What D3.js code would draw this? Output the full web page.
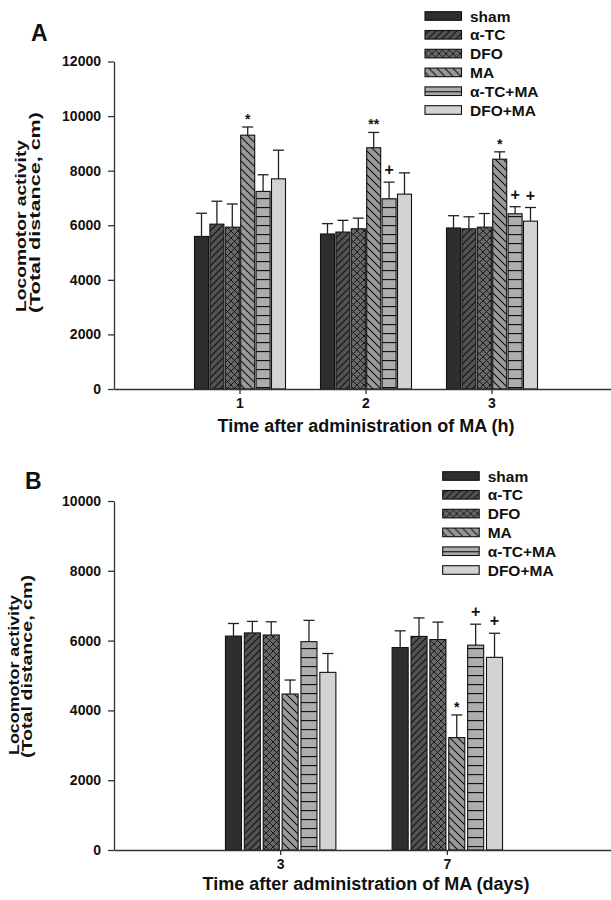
<!DOCTYPE html>
<html>
<head>
<meta charset="utf-8">
<script src="https://cdn.jsdelivr.net/npm/d3@7"></script>
<style>
  body { margin: 0; background: #fff; }
  svg { display: block; }
  text { font-family: "Liberation Sans", Arial, Helvetica, sans-serif; font-weight: bold; fill: #111; }
</style>
</head>
<body>
<div id="viz"></div>
<script>
// groups shown in every cluster, in draw order
const series = ["sham", "α-TC", "DFO", "MA", "α-TC+MA", "DFO+MA"];

// panel A: hours after MA
const hoursA = ["1", "2", "3"];
const meanA = [
  [5590, 6040, 5930, 9300, 7240, 7700],
  [5680, 5750, 5870, 8840, 6970, 7140],
  [5900, 5870, 5930, 8420, 6420, 6150]
];
const semA = [
  [850, 840, 850, 300, 610, 1050],
  [380, 430, 390, 560, 610, 780],
  [450, 440, 500, 270, 260, 500]
];
const ticksA = [0, 2000, 4000, 6000, 8000, 10000, 12000];
const sigA = [
  ["1", "MA", "*"], ["2", "MA", "**"], ["2", "α-TC+MA", "+"],
  ["3", "MA", "*"], ["3", "α-TC+MA", "+"], ["3", "DFO+MA", "+"]
];

// panel B: days after MA
const daysB = ["3", "7"];
const meanB = [
  [6130, 6220, 6160, 4470, 5970, 5090],
  [5800, 6120, 6030, 3220, 5870, 5520]
];
const semB = [
  [360, 330, 380, 400, 610, 540],
  [480, 530, 500, 650, 600, 690]
];
const ticksB = [0, 2000, 4000, 6000, 8000, 10000];
const sigB = [["7", "MA", "*"], ["7", "α-TC+MA", "+"], ["7", "DFO+MA", "+"]];

const svg = d3.select("#viz").append("svg")
  .attr("width", 611)
  .attr("height", 900);

// fills: solid greys and hatches
const defs = svg.append("defs");
function pattern(id, w, h, bg, d, sw) {
  const p = defs.append("pattern")
    .attr("id", id)
    .attr("patternUnits", "userSpaceOnUse")
    .attr("width", w).attr("height", h);
  p.append("rect").attr("width", w).attr("height", h).attr("fill", bg);
  p.append("path").attr("d", d).attr("stroke", "#111").attr("stroke-width", sw).attr("fill", "none");
}
pattern("fwd", 7, 7, "#525252", "M-1,8 L8,-1 M-1,1 L1,-1 M6,8 L8,6", 1.1);
pattern("cross", 7, 7, "#686868", "M-1,8 L8,-1 M-1,-1 L8,8 M-1,1 L1,-1 M6,8 L8,6 M6,-1 L8,1 M-1,6 L1,8", 0.9);
pattern("back", 8, 8, "#999", "M-1,-1 L9,9 M7,-1 L9,1 M-1,7 L1,9", 1.1);
pattern("stripe", 8, 9, "#adadad", "M0,0.5 L8,0.5", 1.3);

const fills = {
  "sham": "#2e2e2e",
  "α-TC": "url(#fwd)",
  "DFO": "url(#cross)",
  "MA": "url(#back)",
  "α-TC+MA": "url(#stripe)",
  "DFO+MA": "#d3d3d3"
};

function drawPanel(o) {
  const g = svg.append("g");

  const y = d3.scaleLinear().domain([0, o.ymax]).range([o.y0, o.y1]);
  const x = d3.scaleBand().domain(o.cats).range([114, o.xEnd]).paddingInner(0).paddingOuter(0.5);
  const xi = d3.scaleBand().domain(series).range([-o.half, o.half]).paddingInner(o.pad);

  const rows = [];
  o.cats.forEach((c, i) => {
    series.forEach((s, j) => {
      rows.push({cat: c, name: s, v: o.mean[i][j], e: o.sem[i][j]});
    });
  });
  const cx = d => x(d.cat) + x.bandwidth() / 2 + xi(d.name);

  // bars
  g.append("g").selectAll("rect")
    .data(rows)
    .join("rect")
      .attr("x", d => cx(d))
      .attr("y", d => y(d.v))
      .attr("width", xi.bandwidth())
      .attr("height", d => y(0) - y(d.v))
      .attr("fill", d => fills[d.name])
      .attr("stroke", "#111")
      .attr("stroke-width", 1.1);

  // error bars, upper half only
  const eb = g.append("g").attr("stroke", "#222").attr("stroke-width", 1.3);
  eb.selectAll("line.v")
    .data(rows)
    .join("line")
      .attr("class", "v")
      .attr("x1", d => cx(d) + xi.bandwidth() / 2)
      .attr("x2", d => cx(d) + xi.bandwidth() / 2)
      .attr("y1", d => y(d.v))
      .attr("y2", d => y(d.v + d.e));
  eb.selectAll("line.c")
    .data(rows)
    .join("line")
      .attr("class", "c")
      .attr("x1", d => cx(d) + xi.bandwidth() / 2 - 5.5)
      .attr("x2", d => cx(d) + xi.bandwidth() / 2 + 5.5)
      .attr("y1", d => y(d.v + d.e))
      .attr("y2", d => y(d.v + d.e));

  // significance marks
  g.append("g").selectAll("text")
    .data(o.sig)
    .join("text")
      .attr("text-anchor", "middle")
      .attr("font-size", d => d[2] === "+" ? "16px" : "14px")
      .attr("x", d => {
        const r = rows.find(q => q.cat === d[0] && q.name === d[1]);
        return cx(r) + xi.bandwidth() / 2;
      })
      .attr("y", d => {
        const r = rows.find(q => q.cat === d[0] && q.name === d[1]);
        return y(r.v + r.e) - (d[2] === "+" ? 7 : 3);
      })
      .text(d => d[2]);

  // axes
  const ax = g.append("g")
    .attr("transform", `translate(0,${o.y0})`)
    .call(d3.axisBottom(x).tickSize(5).tickSizeOuter(0).tickPadding(o.xPad));
  const ay = g.append("g")
    .attr("transform", "translate(114,0)")
    .call(d3.axisLeft(y).tickValues(o.ticks).tickFormat(d3.format("d")).tickSize(6).tickSizeOuter(0).tickPadding(7));
  [ax, ay].forEach(a => {
    a.selectAll("path, line").attr("stroke", "#333").attr("stroke-width", 1.3);
    a.selectAll("text")
      .attr("font-family", "Liberation Sans, Arial, sans-serif")
      .attr("font-weight", "bold")
      .attr("font-size", "14px")
      .attr("fill", "#111");
  });
  ax.selectAll("text").attr("dy", "0.71em");

  // titles
  g.append("text")
    .attr("x", o.letterX).attr("y", o.letterY)
    .attr("font-size", "23px")
    .text(o.letter);
  g.append("text")
    .attr("x", 366).attr("y", o.xTitleY)
    .attr("text-anchor", "middle")
    .attr("font-size", "18px")
    .text(o.xTitle);
  // y title, two lines bottom-aligned, stretched along their length
  const yl = g.append("g");
  yl.append("text")
    .attr("transform", `translate(${o.yLab[0]},${o.yLab[1]}) rotate(-90)`)
    .attr("font-size", "14.5px")
    .attr("textLength", o.yLab[2])
    .attr("lengthAdjust", "spacingAndGlyphs")
    .text("Locomotor activity");
  yl.append("text")
    .attr("transform", `translate(${o.yLab[3]},${o.yLab[4]}) rotate(-90)`)
    .attr("font-size", "14.5px")
    .attr("textLength", o.yLab[5])
    .attr("lengthAdjust", "spacingAndGlyphs")
    .text("(Total distance, cm)");

  // legend
  const lg = g.append("g").selectAll("g")
    .data(series)
    .join("g")
      .attr("transform", (d, i) => `translate(${o.legX},${o.legY + i * 18.8})`);
  lg.append("rect")
    .attr("x", 0).attr("y", -4.3)
    .attr("width", 36.5).attr("height", 8.6)
    .attr("fill", d => fills[d])
    .attr("stroke", "#111")
    .attr("stroke-width", 1.1);
  lg.append("text")
    .attr("x", 45).attr("y", 5.5)
    .attr("font-size", "15.5px")
    .text(d => d);
}

drawPanel({
  cats: hoursA, mean: meanA, sem: semA, ticks: ticksA, sig: sigA,
  ymax: 12000, y0: 389, y1: 61.5, xEnd: 618, half: 45.5, pad: 0.09, xPad: 4,
  letter: "A", letterX: 31, letterY: 41,
  xTitle: "Time after administration of MA (h)", xTitleY: 432,
  yLab: [25.5, 312, 172, 39.5, 313, 201], legX: 425, legY: 16
});

drawPanel({
  cats: daysB, mean: meanB, sem: semB, ticks: ticksB, sig: sigB,
  ymax: 10000, y0: 850, y1: 501, xEnd: 614, half: 55.2, pad: 0.15, xPad: 4.5,
  letter: "B", letterX: 25, letterY: 489,
  xTitle: "Time after administration of MA (days)", xTitleY: 889.5,
  yLab: [18.5, 755, 160, 32, 758, 183], legX: 442.7, legY: 476
});
</script>
</body>
</html>
